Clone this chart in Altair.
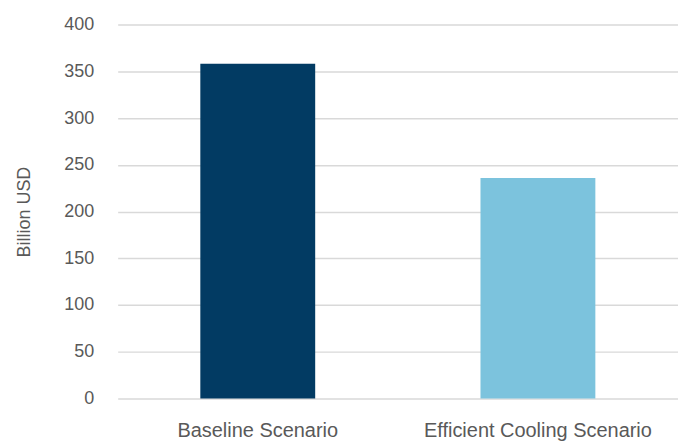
import altair as alt
import pandas as pd

scenarios = ["Baseline Scenario", "Efficient Cooling Scenario"]
values = [358, 236]
colors = ["#023b63", "#7cc3dd"]

df = pd.DataFrame({"scenario": scenarios, "value": values, "color": colors})

FONT = "Liberation Sans, sans-serif"

chart = alt.Chart(df).mark_bar().encode(
    x=alt.X("scenario:N", sort=scenarios, title=None,
            scale=alt.Scale(paddingInner=0.59, paddingOuter=0.295),
            axis=alt.Axis(labelAngle=0, labelFontSize=20, labelColor="#595959",
                          labelFont=FONT, labelPadding=22, labelLimit=500,
                          ticks=False, domain=False, grid=False)),
    y=alt.Y("value:Q", title="Billion USD",
            scale=alt.Scale(domain=[0, 400]),
            axis=alt.Axis(values=list(range(0, 401, 50)), labelFontSize=18,
                          labelColor="#595959", labelFont=FONT,
                          labelPadding=24, ticks=False, domain=False,
                          gridColor="#d9d9d9", gridWidth=1.5,
                          titleFontSize=18, titleColor="#595959",
                          titleFont=FONT, titleFontWeight="normal",
                          titlePadding=30)),
    color=alt.Color("color:N", scale=None),
).properties(
    width=562, height=375,
    padding={"left": 110, "top": 16, "right": 0, "bottom": 45},
    autosize=alt.AutoSizeParams(type="none"),
).configure_view(stroke=None)

chart.save("out.html", embed_options={"renderer": "svg", "actions": False})
